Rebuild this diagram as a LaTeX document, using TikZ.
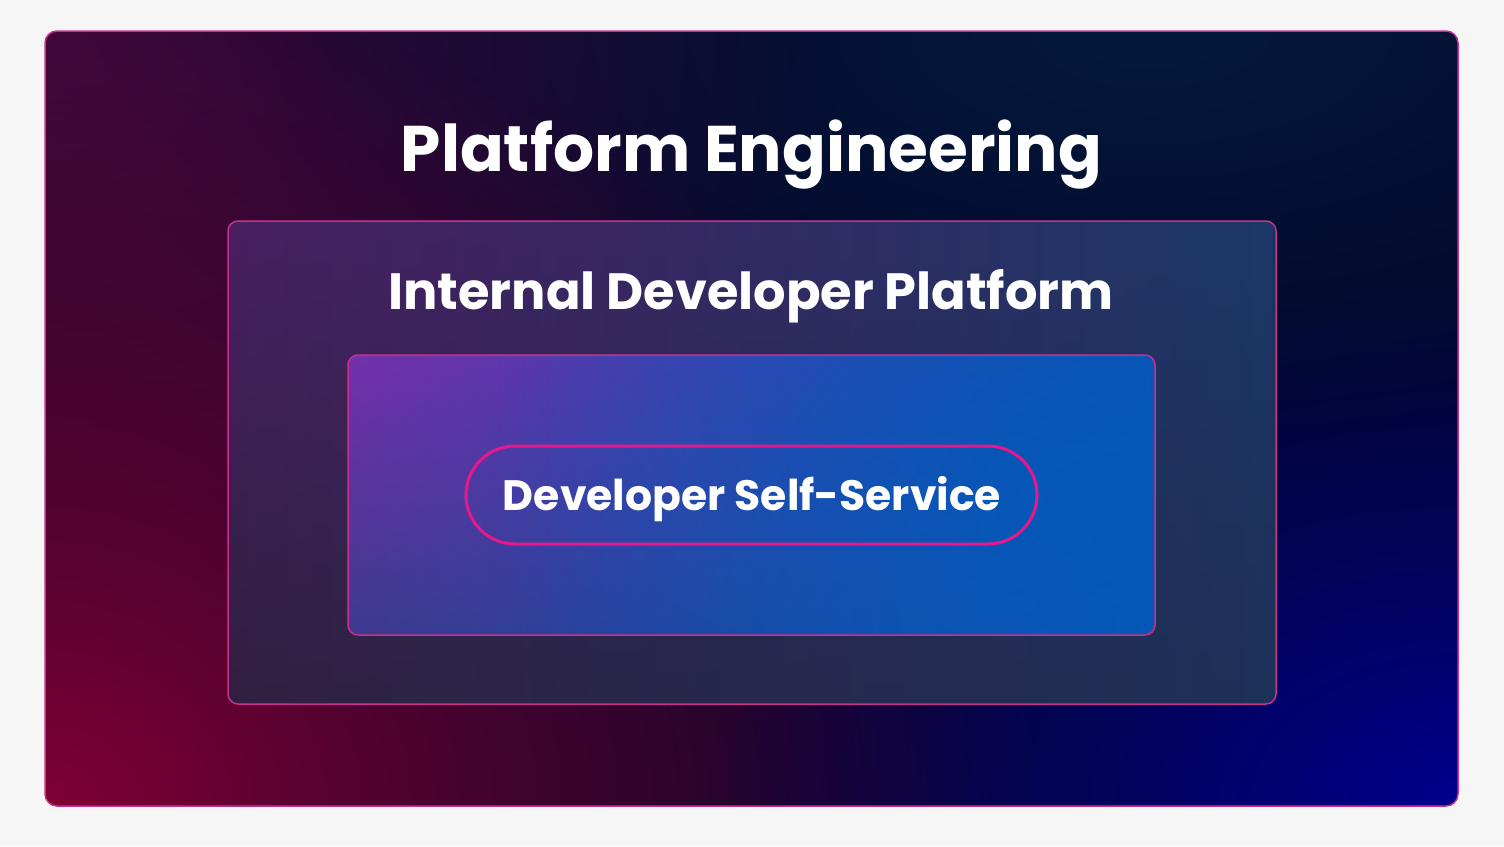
\documentclass[tikz,border=0pt]{standalone}
\usepackage{fontspec}
\setmainfont{Poppins}
\usetikzlibrary{fadings}
\definecolor{bg}{HTML}{F6F6F7}
\definecolor{navybase}{HTML}{04062A}
\definecolor{navytop}{HTML}{031A3C}
\definecolor{plumtl}{HTML}{3E0A3C}
\definecolor{crimson}{HTML}{800034}
\definecolor{deepblue}{HTML}{00008E}
\definecolor{edge}{HTML}{C8308C}
\definecolor{pilledge}{HTML}{E8188C}
\definecolor{brightblue}{HTML}{0558B8}
\definecolor{midUL}{HTML}{4A1F62}
\definecolor{midUR}{HTML}{1C3868}
\definecolor{midLL}{HTML}{302040}
\definecolor{midLR}{HTML}{1D3058}
\definecolor{inUL}{HTML}{7430AA}
\definecolor{inUR}{HTML}{0C52B8}
\definecolor{inLL}{HTML}{3E3A8F}
\definecolor{inLR}{HTML}{0558B8}
\pgfdeclareradialshading{glowshade}{\pgfpointorigin}{color(0bp)=(white); color(10bp)=(white!55!black); color(25bp)=(black); color(50bp)=(black)}
\pgfdeclarefading{glow}{\pgfuseshading{glowshade}}
\tikzset{
  boxedge/.style={draw=edge, line width=1.5pt},
  title/.style={text=white, font=\bfseries, anchor=base, inner sep=0pt},
}
\begin{document}
\begin{tikzpicture}[x=1pt,y=-1pt]
\useasboundingbox (0,0) rectangle (1504,846);
\fill[bg] (0,0) rectangle (1504,846);
% outer box
\begin{scope}
  \clip[rounded corners=12pt] (45,31) rectangle (1458,806);
  \fill[navybase] (45,31) rectangle (1458,806);
  \fill[navytop, path fading=glow] (1150,31) ellipse (900 and 420);
  \fill[plumtl, path fading=glow] (45,31) ellipse (800 and 650);
  \fill[crimson, path fading=glow] (45,806) ellipse (1000 and 820);
  \fill[deepblue, path fading=glow] (1458,806) ellipse (750 and 520);
\end{scope}
\draw[boxedge, rounded corners=12pt] (45,31) rectangle (1458,806);
% middle box
\begin{scope}
  \clip[rounded corners=10pt] (228,221) rectangle (1276,704);
  \shade[left color=midLL, right color=midLR] (228,221) rectangle (1276,704);
  \shade[left color=midUL, right color=midUR, path fading=south] (228,221) rectangle (1276,704);
\end{scope}
\draw[boxedge, rounded corners=10pt] (228,221) rectangle (1276,704);
% inner box
\begin{scope}
  \clip[rounded corners=10pt] (348,355) rectangle (1155,635);
  \shade[left color=inLL, right color=inLR] (348,355) rectangle (1155,635);
  \shade[left color=inUL, right color=inUR, path fading=south] (348,355) rectangle (1155,635);
  \fill[brightblue, path fading=glow] (1080,490) ellipse (600 and 420);
\end{scope}
\draw[boxedge, rounded corners=10pt] (348,355) rectangle (1155,635);
% pill
\draw[pilledge, line width=3pt, rounded corners=49pt] (466,446) rectangle (1037,544);
% texts
\node[title, font=\bfseries\fontsize{64.5}{74}\selectfont] (pe) at (751.5,171) {Platform Engineering};
\node[title, font=\bfseries\fontsize{51}{60}\selectfont] (idp) at (751,309) {Internal Developer Platform};
\node[title, font=\bfseries\fontsize{42.5}{50}\selectfont] (dss) at (752,510) {Developer Self-Service};
\end{tikzpicture}
\end{document}
